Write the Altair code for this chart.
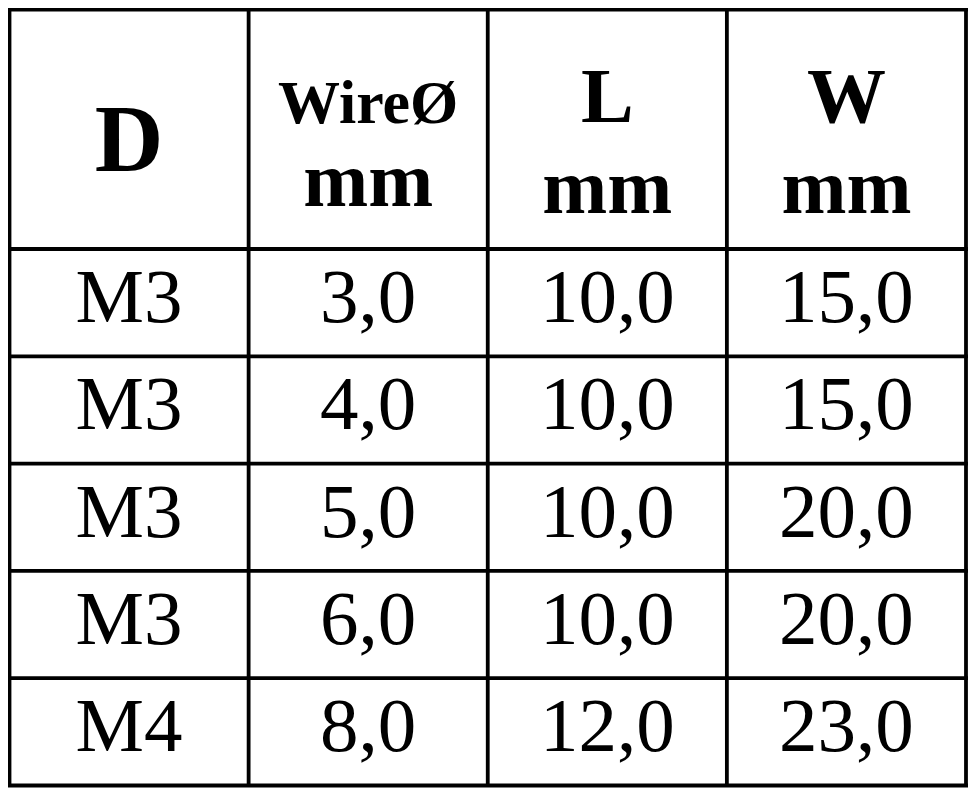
import altair as alt
import pandas as pd

header_top = ["D", "WireØ", "L", "W"]
header_bottom = ["", "mm", "mm", "mm"]
d_sizes = ["M3", "M3", "M3", "M3", "M4"]
wire_mm = [3.0, 4.0, 5.0, 6.0, 8.0]
l_mm = [10.0, 10.0, 10.0, 10.0, 12.0]
w_mm = [15.0, 15.0, 20.0, 20.0, 23.0]

N_ROWS = len(d_sizes)
N_COLS = len(header_top)
W_PX, H_PX = 960, 780
TOP, BOTTOM = 1.5, 777.5
HEADER_PX = 239.5
ROW_PX = (BOTTOM - TOP - HEADER_PX) / N_ROWS
HEADER = HEADER_PX / ROW_PX          # header height in body-row units
FONT = "Liberation Serif"
LINE_W = 3.8


def fmt(v):
    return f"{v:.1f}".replace(".", ",")


cells = []
for r in range(N_ROWS):
    vals = [d_sizes[r], fmt(wire_mm[r]), fmt(l_mm[r]), fmt(w_mm[r])]
    for c, t in enumerate(vals):
        cells.append({"col": c + 0.5, "row": HEADER + r, "text": t})
cells = pd.DataFrame(cells)

head = pd.DataFrame({
    "col": [c + 0.5 for c in range(N_COLS)],
    "row": [0.0] * N_COLS,
    "top": header_top,
    "bottom": header_bottom,
})

vlines = pd.DataFrame({"x": list(range(N_COLS + 1)),
                       "y": [0.0] * (N_COLS + 1),
                       "y2": [HEADER + N_ROWS] * (N_COLS + 1)})
hlines = pd.DataFrame({"y": [0.0] + [HEADER + r for r in range(N_ROWS + 1)]})

xs = alt.Scale(domain=[0, N_COLS], range=[1.5, 958])
ys = alt.Scale(domain=[0, HEADER + N_ROWS], range=[TOP, BOTTOM])


def text_layer(df, field, size, dy, bold):
    return alt.Chart(df).mark_text(
        font=FONT, fontSize=size, fontWeight="bold" if bold else "normal",
        baseline="alphabetic", align="center", dy=dy, color="black",
    ).encode(
        x=alt.X("col:Q", scale=xs, axis=None),
        y=alt.Y("row:Q", scale=ys, axis=None),
        text=alt.Text(f"{field}:N"),
    )


h_d = head[head["col"] == 0.5]
h_wire = head[head["col"] == 1.5]
h_lw = head[head["col"] >= 2.5]

vrules = alt.Chart(vlines).mark_rule(color="black", strokeWidth=LINE_W).encode(
    x=alt.X("x:Q", scale=xs, axis=None),
    y=alt.Y("y:Q", scale=ys, axis=None),
    y2="y2:Q",
)
hrules = alt.Chart(hlines).mark_rule(color="black", strokeWidth=LINE_W).encode(
    y=alt.Y("y:Q", scale=ys, axis=None),
    x=alt.value(0),
    x2=alt.value(W_PX),
)

chart = alt.layer(
    hrules,
    vrules,
    text_layer(h_d, "top", 95, 161, True),
    text_layer(h_wire, "top", 62, 113, True),
    text_layer(h_lw, "top", 79, 112, True),
    text_layer(h_wire, "bottom", 78, 196, True),
    text_layer(h_lw, "bottom", 78, 203, True),
    text_layer(cells, "text", 77, 73, False),
).properties(
    width=W_PX, height=H_PX, autosize="none", padding=0, background="white",
).configure_view(stroke=None)

chart.save("out.html", embed_options={"renderer": "svg", "actions": False})
